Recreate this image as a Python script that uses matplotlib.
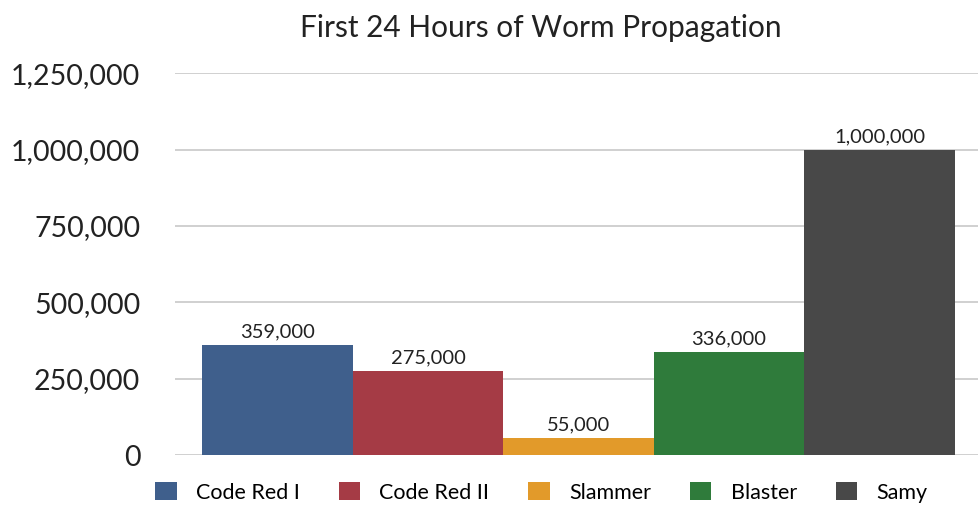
import matplotlib.pyplot as plt

worms = ["Code Red I", "Code Red II", "Slammer", "Blaster", "Samy"]
hosts = [359000, 275000, 55000, 336000, 1000000]
colors = ["#3f5f8c", "#a53b45", "#e29a2a", "#2f7b3b", "#484848"]
yticks = [0, 250000, 500000, 750000, 1000000, 1250000]

plt.rcParams['font.family'] = ['Lato', 'DejaVu Sans']

fig = plt.figure(figsize=(9.79, 5.05), dpi=100)
ax = fig.add_axes([0.1788, 0.099, 0.8212, 0.756])

x = range(len(worms))
bars = ax.bar(x, hosts, width=1.0, color=colors, label=worms, zorder=3)

for xi, v in zip(x, hosts):
    ax.text(xi, v + 15000, f"{v:,}", ha='center', va='bottom', fontsize=14.5, color='#222222')

ax.set_xlim(-0.68, 4.66)
ax.set_ylim(0, 1250000)
ax.set_yticks(yticks)
ax.set_yticklabels([f"{t:,}" for t in yticks], fontsize=20.5, color='#222222')
ax.tick_params(axis='y', length=0, pad=25)
ax.set_xticks([])
ax.grid(axis='y', color='#c8c8c8', linewidth=1.2, zorder=0)
for s in ax.spines.values():
    s.set_visible(False)

fig.text(0.552, 0.945, "First 24 Hours of Worm Propagation", ha='center', va='center',
         fontsize=21.5, color='#222222')

fig.legend(bars, worms, loc='center', bbox_to_anchor=(0.553, 0.025), ncol=5, frameon=False,
           fontsize=15.5, handlelength=1.0, handleheight=0.9, columnspacing=1.8, handletextpad=0.9)

fig.savefig("out.png", dpi=100)
